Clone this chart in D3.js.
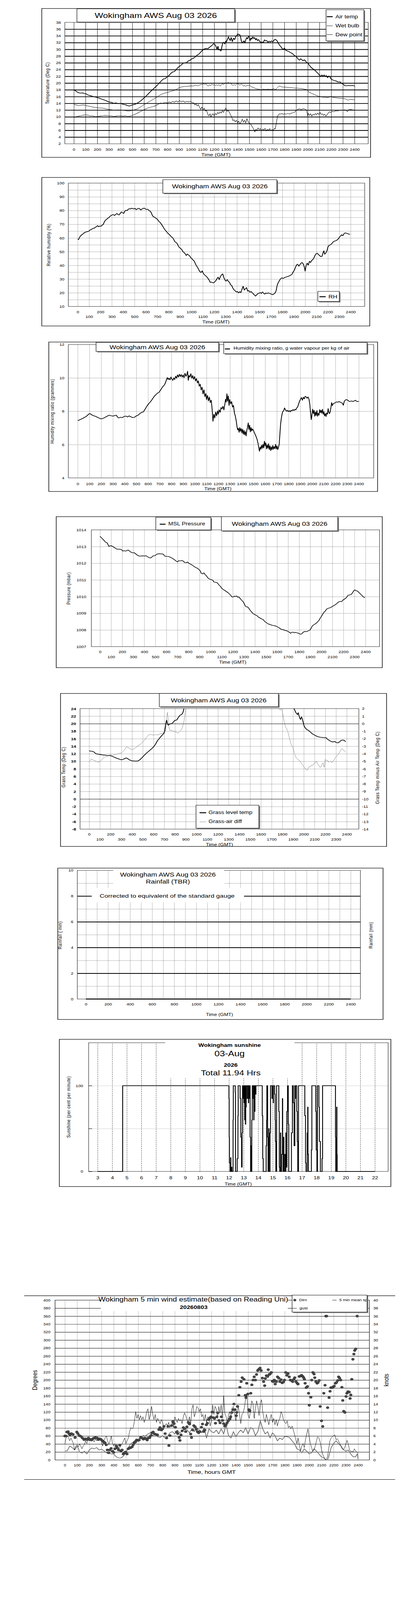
<!DOCTYPE html>
<html>
<head>
<meta charset="utf-8">
<script src="https://cdn.jsdelivr.net/npm/d3@7"></script>
<style>
html, body { margin: 0; padding: 0; background: #fff; width: 100%; height: 100%; overflow: hidden; }
svg { display: block; width: 100vw; height: 100vh; }
</style>
</head>
<body>
<script>
// ------------------------------------------------------------
// Wokingham AWS daily charts, Aug 03 2026
// x values are clock time as HHMM-style numbers (0..2400)
// ------------------------------------------------------------

var FONT = '"Liberation Sans", Arial, Helvetica, sans-serif';
var TITLE = "Wokingham AWS Aug 03 2026";

// --- chart 1: temperatures (deg C)
var airTemp = [[0,18.0],[15,17.7],[30,17.3],[45,17.1],[60,17.0],[75,17.1],[90,16.9],[105,16.8],[120,16.5],[135,16.3],[150,16.2],[165,16.0],[180,15.9],[200,15.7],[220,15.5],[240,15.2],[260,15.0],[280,14.7],[300,14.4],[320,14.3],[340,14.0],[360,14.1],[380,13.9],[400,14.0],[420,13.7],[440,13.6],[460,13.3],[475,13.2],[490,13.4],[510,13.6],[530,13.8],[550,14.2],[575,14.8],[600,15.6],[625,16.4],[650,17.3],[675,18.1],[700,18.9],[725,19.8],[750,20.7],[765,21.2],[780,21.3],[800,21.9],[815,22.3],[830,22.9],[845,23.3],[860,23.4],[875,24.0],[890,24.6],[905,25.0],[920,25.4],[935,25.9],[950,26.0],[965,26.1],[980,26.6],[995,26.8],[1010,27.2],[1025,27.4],[1040,27.8],[1055,28.3],[1070,28.6],[1085,29.2],[1100,29.7],[1115,30.1],[1130,30.3],[1145,30.2],[1160,30.6],[1175,31.0],[1185,31.3],[1195,31.7],[1205,31.5],[1215,30.9],[1225,30.0],[1232,30.9],[1240,29.8],[1250,29.9],[1258,29.5],[1265,30.6],[1272,31.8],[1280,32.1],[1290,31.6],[1298,32.4],[1305,32.2],[1315,33.1],[1322,33.7],[1330,33.0],[1338,32.6],[1345,33.5],[1355,32.3],[1365,33.3],[1375,32.9],[1385,33.8],[1395,34.2],[1402,34.6],[1410,34.3],[1418,34.4],[1425,33.8],[1432,32.5],[1440,31.9],[1448,32.2],[1455,32.5],[1462,31.9],[1470,32.8],[1478,33.5],[1486,33.1],[1494,33.9],[1500,33.6],[1508,32.6],[1515,33.4],[1522,33.0],[1530,33.7],[1538,33.2],[1546,33.5],[1554,32.8],[1562,33.2],[1570,32.6],[1580,32.9],[1590,32.3],[1600,32.0],[1610,32.2],[1620,32.0],[1630,32.8],[1640,32.5],[1650,32.6],[1660,32.1],[1670,32.4],[1680,32.2],[1690,32.5],[1700,32.2],[1710,32.6],[1720,33.0],[1730,32.8],[1740,32.4],[1750,31.7],[1760,31.2],[1770,30.8],[1780,30.3],[1790,29.9],[1800,30.4],[1810,29.8],[1825,29.5],[1840,29.3],[1855,29.0],[1870,28.7],[1885,28.2],[1900,27.9],[1910,27.5],[1920,27.0],[1930,26.8],[1940,27.2],[1950,26.9],[1960,26.6],[1970,26.9],[1980,26.6],[1990,26.1],[2000,26.0],[2015,25.2],[2030,24.6],[2045,24.2],[2060,23.8],[2075,23.3],[2090,22.8],[2100,22.3],[2110,22.0],[2120,22.4],[2130,22.1],[2140,22.4],[2150,22.0],[2160,22.2],[2170,21.6],[2180,22.1],[2190,21.8],[2200,21.2],[2215,20.9],[2230,20.7],[2245,20.6],[2260,20.3],[2275,20.4],[2290,19.9],[2305,19.6],[2320,19.2],[2335,19.2],[2350,19.3],[2365,19.2],[2380,19.3],[2395,19.2],[2400,19.1]];
var wetBulb = [[0,13.7],[20,13.5],[40,13.3],[60,13.4],[80,13.5],[100,13.4],[120,13.2],[140,13.1],[160,12.9],[180,12.8],[200,12.7],[220,12.6],[240,12.6],[260,12.5],[280,12.3],[300,12.2],[320,12.1],[340,11.95],[360,12.0],[380,12.05],[400,11.95],[420,11.9],[440,11.85],[460,11.7],[480,11.75],[500,11.9],[520,12.1],[540,12.3],[560,12.7],[580,13.1],[600,13.6],[625,14.1],[650,14.6],[675,15.1],[700,15.6],[725,16.2],[750,16.7],[775,17.0],[800,17.2],[825,17.5],[850,17.7],[875,18.1],[900,18.6],[925,18.9],[950,19.0],[975,19.0],[1000,19.2],[1020,19.1],[1040,19.4],[1060,19.2],[1080,19.5],[1100,19.6],[1110,19.8],[1120,19.5],[1130,19.8],[1140,19.3],[1150,19.1],[1160,19.5],[1170,19.2],[1180,19.7],[1190,19.4],[1200,19.6],[1210,19.2],[1220,19.5],[1230,19.3],[1240,19.6],[1250,19.1],[1260,19.4],[1270,19.8],[1280,19.5],[1290,19.9],[1300,20.1],[1310,19.8],[1320,20.3],[1330,19.9],[1340,20.1],[1350,19.5],[1360,19.3],[1370,19.6],[1380,19.3],[1390,19.6],[1400,19.9],[1410,19.6],[1420,19.4],[1430,19.7],[1440,19.5],[1450,19.1],[1460,19.3],[1470,19.0],[1480,19.4],[1490,19.2],[1500,19.5],[1510,19.1],[1520,18.9],[1540,18.6],[1560,18.3],[1580,18.2],[1600,18.0],[1620,18.2],[1640,18.1],[1660,18.2],[1680,18.1],[1700,18.2],[1710,18.4],[1720,18.1],[1730,18.2],[1740,18.6],[1750,19.0],[1760,19.1],[1775,18.9],[1790,18.8],[1810,18.8],[1830,18.7],[1850,18.7],[1870,18.6],[1890,18.5],[1910,18.5],[1930,18.4],[1950,18.4],[1970,18.2],[1990,18.1],[2000,17.8],[2010,17.3],[2030,17.0],[2050,16.7],[2070,16.4],[2090,16.1],[2110,16.0],[2130,15.8],[2150,15.8],[2170,15.7],[2190,15.9],[2200,16.1],[2210,15.8],[2230,15.7],[2250,15.6],[2270,15.5],[2290,15.5],[2310,15.4],[2330,15.2],[2345,14.9],[2360,15.2],[2380,15.1],[2400,15.1]];
var dewPoint = [[0,9.8],[20,10.0],[40,10.2],[60,10.3],[80,10.5],[100,10.6],[120,10.5],[140,10.3],[160,10.3],[180,10.1],[200,10.1],[220,10.2],[240,10.3],[260,10.4],[280,10.4],[300,10.3],[320,10.3],[340,10.1],[360,10.2],[380,10.3],[400,10.3],[420,10.2],[440,10.3],[460,10.1],[480,10.2],[500,10.4],[520,10.7],[540,11.0],[560,11.4],[580,11.7],[600,12.1],[625,12.5],[650,12.8],[675,13.0],[700,13.3],[720,13.7],[740,14.1],[760,14.0],[780,14.3],[800,14.1],[815,14.4],[830,14.2],[845,14.6],[860,14.3],[875,14.7],[890,14.4],[905,14.8],[920,14.4],[935,14.7],[950,14.3],[965,14.6],[980,14.4],[995,14.6],[1010,14.3],[1025,14.1],[1035,13.5],[1045,13.8],[1055,13.2],[1065,13.6],[1075,12.8],[1085,12.2],[1095,12.9],[1105,12.1],[1115,12.6],[1125,11.7],[1135,11.9],[1145,10.8],[1155,10.3],[1165,10.9],[1172,9.9],[1180,10.6],[1190,10.9],[1200,10.3],[1210,11.0],[1220,10.6],[1230,11.3],[1240,10.9],[1250,11.5],[1260,11.1],[1270,11.8],[1280,11.3],[1290,12.1],[1300,12.6],[1310,11.6],[1320,11.9],[1330,11.3],[1340,10.6],[1350,9.9],[1360,8.9],[1370,9.1],[1380,8.5],[1390,9.0],[1400,8.2],[1410,8.7],[1420,7.9],[1430,8.5],[1440,9.3],[1450,8.4],[1460,9.0],[1470,8.2],[1480,9.5],[1490,8.6],[1500,8.1],[1510,7.9],[1520,7.4],[1530,6.8],[1540,6.2],[1548,5.5],[1555,6.3],[1565,6.0],[1575,6.7],[1585,6.2],[1595,6.5],[1605,5.9],[1615,6.4],[1625,6.1],[1635,6.6],[1645,5.8],[1655,6.3],[1665,6.0],[1675,6.5],[1685,5.9],[1695,6.2],[1705,6.0],[1715,6.6],[1722,6.4],[1728,7.5],[1735,9.0],[1742,10.2],[1750,10.6],[1760,10.9],[1770,10.8],[1780,11.0],[1790,10.7],[1800,10.9],[1815,10.8],[1830,11.0],[1845,10.8],[1860,11.1],[1875,11.2],[1890,11.4],[1900,11.9],[1915,12.2],[1930,12.4],[1945,12.1],[1960,12.4],[1975,12.3],[1990,12.0],[1995,11.0],[2000,10.2],[2005,11.0],[2015,10.4],[2025,10.9],[2035,10.2],[2045,10.8],[2055,10.5],[2065,11.0],[2075,10.6],[2085,11.1],[2095,10.7],[2105,11.3],[2115,10.7],[2125,10.9],[2135,10.4],[2145,10.8],[2155,10.2],[2165,10.6],[2175,11.1],[2185,11.5],[2195,11.3],[2210,11.6],[2225,11.5],[2240,11.8],[2255,11.7],[2270,11.9],[2285,12.0],[2300,11.9],[2315,12.1],[2330,11.8],[2340,11.5],[2350,12.1],[2365,12.2],[2380,12.1],[2400,12.0]];
var tempLegend = ["Air temp", "Wet bulb", "Dew point"];

// --- chart 2: relative humidity (%)
var relHum = [[0,59.2],[8,58.8],[15,60.2],[25,61.5],[35,62.2],[45,62.8],[55,63.6],[65,64.1],[80,64.5],[95,64.8],[110,65.8],[125,66.4],[135,67.1],[145,67.0],[155,67.8],[165,68.2],[175,69.0],[185,68.2],[195,68.7],[205,68.5],[215,69.4],[225,69.8],[235,71.8],[245,73.0],[255,73.6],[265,74.4],[275,74.9],[285,75.8],[295,76.4],[305,76.9],[315,77.0],[325,76.4],[335,77.2],[345,77.8],[355,77.1],[365,76.8],[375,78.0],[385,79.0],[395,78.4],[405,77.9],[415,79.6],[425,80.2],[435,79.9],[445,81.0],[455,81.3],[465,81.2],[475,81.7],[485,81.3],[495,81.2],[505,81.6],[515,80.6],[525,81.2],[535,81.6],[545,81.3],[555,80.4],[565,81.1],[575,81.5],[585,81.8],[595,81.2],[605,80.8],[615,81.0],[625,80.2],[635,79.6],[645,78.8],[655,76.8],[665,75.5],[675,75.2],[685,74.6],[695,74.0],[705,73.2],[715,72.0],[725,71.3],[735,70.2],[745,68.9],[755,67.6],[765,66.2],[775,65.2],[785,64.3],[795,63.2],[805,62.6],[815,61.7],[825,60.7],[835,60.2],[845,58.9],[855,57.2],[865,56.7],[875,55.9],[885,54.1],[895,53.0],[905,52.4],[915,51.5],[925,50.1],[935,49.4],[945,48.5],[955,47.2],[965,48.3],[975,47.5],[985,46.9],[995,45.6],[1005,44.8],[1015,43.9],[1025,43.1],[1035,41.2],[1045,39.6],[1055,38.4],[1065,36.8],[1075,35.4],[1085,34.8],[1095,36.0],[1105,34.2],[1115,33.1],[1125,32.4],[1135,31.6],[1145,30.6],[1155,29.4],[1165,27.6],[1175,27.8],[1185,27.5],[1195,27.2],[1205,27.9],[1215,28.8],[1225,30.2],[1235,31.4],[1245,29.6],[1255,31.8],[1265,33.0],[1275,33.8],[1285,31.2],[1295,29.3],[1305,28.5],[1315,29.6],[1325,28.3],[1335,27.6],[1345,25.8],[1355,25.2],[1365,23.4],[1375,22.1],[1385,21.4],[1395,20.6],[1405,20.9],[1415,19.9],[1425,20.8],[1435,20.1],[1445,22.6],[1455,24.8],[1465,22.0],[1475,22.9],[1485,23.8],[1495,21.2],[1505,21.6],[1515,20.4],[1525,20.9],[1535,20.0],[1545,19.2],[1555,18.3],[1565,17.6],[1575,18.6],[1585,19.4],[1595,19.6],[1605,20.2],[1615,19.5],[1625,20.6],[1635,19.7],[1645,19.0],[1655,19.8],[1665,19.4],[1675,19.9],[1685,19.6],[1695,19.3],[1705,18.9],[1715,18.6],[1725,19.1],[1735,19.8],[1745,21.5],[1755,25.6],[1765,27.6],[1775,29.0],[1785,30.2],[1795,30.9],[1805,30.5],[1815,30.8],[1825,31.3],[1835,31.5],[1845,31.8],[1855,32.1],[1865,32.4],[1875,32.9],[1885,33.6],[1895,35.2],[1905,36.4],[1915,38.5],[1925,40.4],[1935,40.8],[1945,39.4],[1955,40.6],[1965,41.7],[1975,42.0],[1985,40.8],[1995,38.2],[2000,35.8],[2008,39.5],[2018,41.6],[2028,40.2],[2038,42.9],[2048,42.1],[2058,43.6],[2068,44.2],[2078,45.6],[2088,47.4],[2098,48.6],[2108,48.8],[2118,47.8],[2128,47.1],[2138,46.4],[2148,46.5],[2158,49.2],[2165,50.6],[2172,48.1],[2182,49.0],[2192,50.6],[2202,53.7],[2212,54.6],[2222,55.1],[2232,55.5],[2242,56.7],[2252,57.5],[2262,57.8],[2272,58.0],[2282,58.6],[2292,59.3],[2302,60.6],[2312,61.5],[2322,62.3],[2332,61.6],[2342,63.1],[2352,63.7],[2362,63.5],[2372,63.2],[2382,62.9],[2395,62.6]];

// --- chart 3: humidity mixing ratio (g/kg)
var mixRatio = [[0,7.44],[15,7.48],[30,7.53],[45,7.58],[60,7.64],[75,7.7],[90,7.8],[100,7.86],[110,7.84],[120,7.78],[135,7.73],[150,7.7],[165,7.65],[180,7.6],[195,7.55],[210,7.56],[225,7.6],[240,7.66],[255,7.72],[270,7.76],[285,7.73],[300,7.71],[315,7.74],[330,7.76],[340,7.65],[350,7.6],[365,7.64],[380,7.62],[395,7.68],[410,7.71],[425,7.66],[440,7.72],[455,7.66],[470,7.62],[485,7.64],[500,7.72],[515,7.76],[530,7.86],[545,7.93],[560,7.96],[575,8.12],[590,8.3],[605,8.44],[620,8.56],[635,8.7],[650,8.86],[665,8.98],[680,9.08],[695,9.14],[710,9.3],[725,9.46],[740,9.58],[750,9.72],[758,9.9],[765,10.02],[772,9.9],[780,9.98],[788,9.88],[796,10.05],[804,9.92],[812,9.85],[820,10.0],[828,9.9],[836,10.1],[844,9.98],[852,10.18],[860,10.05],[868,10.22],[876,10.08],[884,10.2],[892,10.05],[900,10.17],[908,10.02],[916,10.28],[924,10.1],[932,10.2],[938,10.4],[944,9.85],[950,10.15],[958,10.05],[966,10.25],[974,9.98],[982,10.14],[990,9.92],[998,10.08],[1006,9.82],[1014,9.96],[1022,9.7],[1030,9.82],[1038,9.5],[1046,9.62],[1054,9.28],[1062,9.44],[1070,9.04],[1078,9.28],[1086,8.88],[1094,9.06],[1100,8.7],[1108,8.95],[1116,8.62],[1124,8.85],[1132,8.52],[1140,8.66],[1148,8.1],[1155,7.4],[1162,7.82],[1170,7.6],[1178,7.95],[1186,7.72],[1194,8.02],[1200,7.82],[1208,8.08],[1216,7.94],[1224,8.22],[1232,8.14],[1240,8.3],[1248,8.08],[1256,8.4],[1262,8.72],[1268,8.55],[1274,9.05],[1280,8.6],[1286,8.92],[1292,8.35],[1298,8.7],[1306,8.45],[1314,8.58],[1322,8.25],[1330,8.35],[1338,7.9],[1346,7.7],[1354,7.4],[1360,7.08],[1366,6.88],[1372,6.98],[1378,6.74],[1384,7.02],[1390,6.8],[1396,6.96],[1402,6.7],[1408,6.92],[1414,6.62],[1420,6.85],[1426,6.58],[1432,6.78],[1438,6.52],[1444,6.86],[1450,7.04],[1456,7.3],[1462,6.9],[1468,7.16],[1474,6.76],[1480,7.02],[1486,6.82],[1492,6.94],[1500,6.86],[1508,6.72],[1516,6.6],[1524,6.46],[1532,6.3],[1540,6.06],[1546,5.82],[1552,5.6],[1558,5.86],[1564,5.72],[1570,5.96],[1576,5.78],[1582,6.02],[1588,5.8],[1594,6.2],[1600,5.92],[1606,6.1],[1612,5.74],[1618,5.98],[1624,5.78],[1630,6.05],[1636,5.7],[1642,5.92],[1648,5.64],[1654,5.86],[1660,5.7],[1666,5.95],[1672,5.72],[1678,5.88],[1684,5.76],[1690,6.02],[1696,5.74],[1702,5.92],[1708,5.7],[1714,5.84],[1720,6.0],[1726,6.6],[1732,7.2],[1738,7.56],[1744,7.8],[1750,7.98],[1758,8.02],[1766,8.2],[1774,8.08],[1782,8.0],[1790,8.06],[1798,7.98],[1806,8.04],[1814,7.96],[1822,8.06],[1830,8.02],[1838,8.1],[1846,8.04],[1854,8.12],[1862,8.08],[1870,8.2],[1878,8.26],[1886,8.44],[1894,8.6],[1902,8.72],[1910,8.82],[1918,8.66],[1926,8.84],[1934,8.74],[1942,8.9],[1950,8.86],[1958,8.78],[1966,8.86],[1974,8.74],[1982,8.4],[1988,7.9],[1994,7.5],[2000,7.8],[2006,8.12],[2012,7.86],[2018,8.06],[2024,7.7],[2030,7.96],[2036,7.74],[2042,8.04],[2048,7.7],[2054,7.88],[2060,7.76],[2066,8.1],[2072,7.92],[2078,8.06],[2084,7.88],[2090,8.12],[2096,7.82],[2102,7.98],[2108,7.72],[2114,7.86],[2120,7.68],[2126,7.9],[2132,7.82],[2138,8.16],[2144,7.92],[2150,7.86],[2156,7.98],[2162,8.22],[2168,8.52],[2174,8.34],[2180,8.44],[2190,8.48],[2200,8.52],[2210,8.56],[2220,8.54],[2230,8.58],[2240,8.55],[2250,8.52],[2260,8.48],[2268,8.36],[2276,8.6],[2284,8.66],[2292,8.7],[2300,8.68],[2310,8.64],[2320,8.58],[2330,8.6],[2340,8.62],[2350,8.58],[2360,8.62],[2370,8.66],[2380,8.6],[2390,8.58],[2400,8.6]];
var mixLegend = "Humidity mixing ratio, g water vapour per kg of air";

// --- chart 4: MSL pressure (mbar)
var mslPressure = [[0,1013.61],[10,1013.55],[20,1013.48],[35,1013.38],[50,1013.26],[65,1013.22],[80,1013.01],[90,1013.04],[100,1013.06],[110,1013.02],[125,1012.96],[140,1012.9],[150,1012.85],[165,1012.84],[180,1012.84],[195,1012.82],[205,1012.73],[220,1012.75],[235,1012.73],[245,1012.77],[255,1012.79],[265,1012.74],[280,1012.66],[295,1012.62],[310,1012.63],[325,1012.55],[340,1012.47],[355,1012.43],[370,1012.43],[385,1012.44],[400,1012.43],[415,1012.45],[430,1012.39],[445,1012.33],[460,1012.32],[470,1012.38],[480,1012.44],[495,1012.45],[505,1012.5],[520,1012.56],[535,1012.57],[550,1012.56],[565,1012.56],[575,1012.52],[585,1012.43],[600,1012.41],[615,1012.41],[630,1012.38],[645,1012.33],[660,1012.27],[675,1012.2],[690,1012.12],[700,1012.08],[710,1012.15],[725,1012.14],[740,1012.16],[755,1012.12],[765,1012.04],[780,1012.03],[790,1012.07],[805,1011.99],[820,1011.94],[835,1011.88],[850,1011.81],[865,1011.74],[880,1011.7],[895,1011.62],[905,1011.55],[915,1011.4],[925,1011.36],[940,1011.42],[950,1011.32],[960,1011.26],[975,1011.12],[990,1011.05],[1005,1011.02],[1020,1010.98],[1030,1010.87],[1045,1010.86],[1060,1010.83],[1075,1010.7],[1090,1010.6],[1100,1010.5],[1115,1010.42],[1130,1010.36],[1145,1010.29],[1160,1010.22],[1175,1010.12],[1185,1010.05],[1195,1009.97],[1205,1009.98],[1215,1010.03],[1225,1010.0],[1235,1010.04],[1245,1009.96],[1255,1009.98],[1265,1009.9],[1275,1009.82],[1285,1009.75],[1295,1009.68],[1305,1009.56],[1315,1009.42],[1325,1009.38],[1335,1009.38],[1345,1009.3],[1355,1009.2],[1365,1009.12],[1375,1009.04],[1385,1008.98],[1395,1008.93],[1405,1008.9],[1420,1008.85],[1430,1008.78],[1445,1008.72],[1460,1008.66],[1475,1008.62],[1490,1008.5],[1505,1008.43],[1520,1008.36],[1535,1008.33],[1550,1008.29],[1565,1008.27],[1580,1008.25],[1595,1008.22],[1610,1008.16],[1625,1008.1],[1640,1008.03],[1655,1008.02],[1670,1007.98],[1685,1007.95],[1700,1007.91],[1712,1007.86],[1722,1007.8],[1732,1007.85],[1745,1007.87],[1755,1007.83],[1765,1007.85],[1780,1007.83],[1795,1007.8],[1805,1007.76],[1815,1007.74],[1825,1007.78],[1840,1007.88],[1855,1007.91],[1870,1007.9],[1885,1007.95],[1900,1008.01],[1910,1008.12],[1920,1008.25],[1935,1008.32],[1950,1008.38],[1965,1008.47],[1980,1008.58],[1990,1008.7],[2000,1008.8],[2010,1008.9],[2020,1009.02],[2035,1009.12],[2050,1009.26],[2065,1009.3],[2080,1009.33],[2095,1009.38],[2110,1009.45],[2125,1009.5],[2140,1009.58],[2155,1009.67],[2170,1009.71],[2185,1009.7],[2195,1009.78],[2210,1009.85],[2225,1009.92],[2240,1010.06],[2255,1010.1],[2270,1010.12],[2285,1010.25],[2295,1010.36],[2305,1010.4],[2315,1010.35],[2325,1010.34],[2340,1010.25],[2355,1010.15],[2370,1010.05],[2385,1009.96],[2395,1009.93]];

// --- chart 5: grass temperature (left axis) and grass minus air (right axis)
var grassTemp = [[0,12.8],[15,12.7],[30,12.65],[45,12.5],[55,12.2],[65,12.0],[85,11.9],[105,11.8],[125,11.7],[147,11.65],[170,11.55],[198,11.5],[220,11.3],[240,11.0],[260,10.8],[280,10.6],[300,10.4],[315,10.5],[330,10.7],[347,10.9],[360,10.7],[381,10.3],[400,10.15],[432,10.05],[455,10.1],[473,10.4],[495,11.0],[514,11.6],[540,12.3],[565,12.9],[585,13.4],[606,14.0],[620,14.6],[636,15.4],[652,16.0],[667,16.5],[682,17.0],[697,17.4],[705,18.2],[712,19.3],[718,20.5],[723,20.9],[728,20.2],[733,19.8],[738,19.6],[746,19.8],[754,19.9],[766,20.0],[779,20.2],[790,20.6],[800,20.9],[810,20.9],[820,21.1],[835,21.8],[850,22.3],[865,22.5],[875,23.0],[882,23.8],[890,24.8],[900,26.0],[1000,30],[1200,34],[1500,34],[1800,30],[1900,24.8],[1911,23.9],[1925,23.0],[1941,22.4],[1948,22.9],[1955,22.2],[1962,21.5],[1970,21.1],[1978,21.8],[1985,21.4],[1995,20.3],[2003,19.4],[2015,18.8],[2030,18.4],[2044,18.2],[2060,17.8],[2080,17.3],[2105,16.9],[2125,16.6],[2150,16.4],[2186,16.3],[2206,16.3],[2220,15.9],[2235,15.6],[2247,15.4],[2260,15.2],[2275,15.15],[2288,15.3],[2300,15.0],[2319,14.9],[2335,15.2],[2350,15.6],[2365,15.65],[2380,15.5],[2390,15.2]];
var grassAirDiff = [[0,-5.15],[10,-4.9],[20,-4.7],[35,-4.8],[50,-4.9],[65,-5.0],[80,-5.1],[100,-5.05],[115,-4.85],[130,-4.6],[150,-4.35],[165,-4.4],[180,-4.25],[200,-4.1],[220,-4.2],[240,-4.1],[260,-4.05],[280,-3.95],[300,-3.9],[315,-3.7],[330,-3.5],[350,-3.05],[365,-3.2],[380,-3.3],[400,-3.45],[420,-3.35],[435,-3.15],[450,-3.0],[465,-2.85],[480,-2.75],[500,-2.4],[515,-2.2],[530,-1.9],[550,-1.55],[565,-1.45],[580,-1.45],[600,-1.52],[620,-1.45],[640,-1.5],[660,-1.35],[680,-1.3],[700,-1.15],[710,-1.0],[718,0.0],[725,1.0],[730,1.5],[735,0.9],[742,-0.3],[750,-0.85],[765,-0.9],[780,-1.0],[800,-1.05],[815,-1.15],[830,-1.25],[845,-1.05],[860,-0.8],[872,-0.4],[885,0.4],[895,1.4],[905,2.3],[1000,4],[1400,5],[1700,3],[1770,2.0],[1780,1.79],[1790,1.93],[1800,1.65],[1810,0.82],[1820,0.12],[1830,-0.44],[1840,-0.64],[1850,-1.0],[1860,-1.55],[1870,-2.1],[1880,-2.65],[1890,-2.95],[1900,-3.2],[1915,-4.05],[1930,-4.55],[1945,-4.75],[1960,-4.9],[1980,-5.3],[2000,-5.7],[2010,-5.9],[2020,-6.0],[2030,-6.2],[2040,-5.95],[2050,-5.7],[2060,-5.75],[2070,-5.5],[2080,-5.6],[2090,-5.35],[2100,-5.3],[2110,-5.1],[2120,-5.05],[2130,-5.4],[2140,-5.5],[2150,-5.8],[2160,-5.75],[2170,-5.4],[2180,-5.2],[2190,-5.8],[2200,-4.75],[2210,-4.9],[2220,-4.85],[2230,-5.1],[2240,-5.05],[2250,-4.95],[2260,-5.2],[2270,-5.0],[2280,-4.9],[2290,-4.6],[2300,-4.4],[2315,-4.2],[2330,-3.9],[2345,-3.5],[2355,-3.3],[2365,-3.5],[2375,-3.55],[2390,-3.8]];
var grassLegend = ["Grass level temp", "Grass-air diff"];

// --- chart 6: rainfall (mm), none recorded
var rainfall = [[0,0],[600,0],[1200,0],[1800,0],[2400,0]];

// --- chart 7: sunshine, [minute of day, per cent of minute], held until next entry
var sunSteps = [[180,0],[283,100],[720,85],[721,40],[722,10],[725,0],[727,16],[728,0],[731,5],[732,0],[737,60],[738,100],[746,92],[747,0],[754,15],[757,65],[758,100],[766,85],[769,40],[772,5],[774,45],[776,100],[778,85],[779,100],[782,80],[783,100],[785,60],[786,100],[788,55],[789,95],[790,75],[791,100],[795,85],[796,100],[800,80],[801,100],[803,85],[804,100],[807,40],[809,0],[811,30],[812,0],[814,60],[816,100],[820,85],[821,100],[822,60],[823,100],[826,70],[827,100],[830,90],[831,100],[857,65],[859,15],[861,0],[873,30],[875,60],[876,100],[879,40],[881,0],[884,50],[885,0],[889,45],[891,100],[897,85],[898,100],[902,80],[903,100],[908,90],[910,60],[911,35],[913,0],[916,100],[925,70],[927,5],[929,0],[932,45],[933,0],[937,20],[940,85],[941,30],[943,0],[945,40],[946,0],[950,20],[951,0],[954,45],[955,5],[958,70],[961,100],[964,55],[966,0],[977,45],[981,100],[985,80],[988,30],[991,100],[993,85],[994,100],[999,70],[1001,35],[1003,0],[1006,100],[1032,65],[1035,10],[1037,0],[1042,45],[1044,75],[1045,20],[1047,0],[1059,25],[1061,100],[1077,70],[1079,25],[1082,0],[1084,100],[1090,75],[1092,35],[1096,0],[1103,15],[1105,100],[1158,40],[1159,0],[1163,75],[1164,20],[1165,0],[1320,0]];
var sunHours = [3,4,5,6,7,8,9,10,11,12,13,14,15,16,17,18,19,20,21,22];
var sunTitle = ["Wokingham sunshine", "03-Aug", "2026", "Total 11.94 Hrs"];

// --- chart 8: wind, direction (degrees) and speeds (knots)
var windDirn = [[0,60],[10,60],[17,70],[27,71],[34,66],[42,63],[54,66],[67,64],[84,56],[98,70],[107,66],[119,61],[132,59],[144,55],[157,51],[168,53],[180,51],[193,55],[205,51],[218,50],[228,53],[239,55],[251,56],[264,55],[274,51],[285,53],[297,51],[308,48],[318,45],[329,43],[339,38],[348,25],[358,18],[367,25],[379,29],[390,22],[400,19],[410,28],[421,35],[431,30],[440,25],[450,37],[459,23],[469,25],[478,15],[488,18],[498,20],[509,15],[519,28],[530,30],[540,31],[551,33],[559,38],[568,43],[578,45],[588,50],[599,49],[608,50],[620,56],[632,55],[643,52],[655,55],[664,53],[674,50],[683,55],[695,56],[704,61],[714,68],[723,70],[735,65],[746,64],[758,63],[770,76],[779,81],[790,75],[800,78],[811,84],[821,66],[833,55],[844,84],[852,36],[861,61],[873,86],[884,96],[894,91],[905,82],[915,70],[924,66],[936,56],[942,49],[951,63],[961,73],[970,81],[980,78],[989,71],[999,83],[1011,94],[1020,90],[1030,65],[1037,56],[1047,75],[1056,86],[1066,83],[1076,77],[1085,71],[1095,68],[1106,71],[1118,82],[1127,90],[1137,71],[1146,75],[1158,88],[1167,92],[1177,101],[1187,105],[1196,108],[1206,120],[1216,106],[1225,104],[1233,92],[1244,108],[1252,118],[1261,99],[1271,93],[1281,108],[1290,99],[1300,91],[1309,85],[1319,88],[1328,93],[1338,98],[1350,103],[1357,108],[1367,119],[1376,126],[1384,140],[1393,126],[1403,111],[1407,119],[1414,134],[1424,162],[1433,182],[1443,196],[1452,206],[1466,202],[1477,162],[1483,156],[1489,192],[1498,165],[1506,126],[1514,123],[1522,167],[1531,188],[1541,200],[1550,208],[1560,200],[1569,214],[1579,224],[1588,227],[1598,230],[1607,224],[1617,205],[1627,196],[1636,186],[1641,204],[1650,211],[1660,209],[1665,226],[1673,214],[1680,215],[1690,219],[1699,197],[1707,196],[1715,200],[1722,190],[1732,196],[1741,208],[1751,205],[1760,196],[1770,201],[1779,193],[1789,195],[1798,200],[1808,219],[1817,212],[1827,216],[1837,208],[1846,200],[1856,199],[1865,196],[1875,202],[1882,206],[1892,196],[1902,192],[1909,190],[1919,209],[1929,210],[1938,212],[1948,209],[1955,206],[1961,202],[1967,192],[1976,181],[1986,184],[1995,167],[2001,137],[2014,157],[2021,200],[2031,219],[2040,215],[2046,206],[2055,196],[2065,192],[2073,194],[2082,199],[2090,134],[2101,98],[2111,84],[2120,167],[2130,187],[2137,360],[2143,360],[2151,131],[2163,156],[2171,172],[2178,181],[2188,181],[2197,183],[2205,185],[2215,192],[2224,194],[2234,199],[2241,208],[2249,205],[2258,200],[2268,182],[2275,149],[2283,122],[2292,119],[2302,159],[2309,167],[2318,171],[2328,170],[2335,154],[2341,163],[2349,202],[2358,252],[2366,265],[2373,274],[2381,278],[2393,360]];
var windGust = [[0,4.0],[10,5.5],[20,6.1],[30,5.6],[40,4.8],[50,5.5],[60,4.8],[70,4.1],[80,2.5],[90,3.5],[100,3.8],[110,3.3],[120,4.0],[130,3.5],[140,2.8],[150,3.5],[160,3.8],[170,4.8],[180,4.1],[190,5.0],[200,4.8],[210,5.5],[220,4.8],[230,5.1],[240,4.5],[250,5.3],[260,4.8],[270,5.8],[280,5.1],[290,5.5],[300,4.5],[310,3.5],[320,4.8],[330,5.5],[340,6.0],[350,4.8],[360,3.8],[370,4.8],[380,6.0],[390,4.1],[400,3.5],[410,4.1],[420,2.8],[430,3.8],[440,2.5],[450,3.1],[460,3.8],[470,4.1],[480,4.8],[490,5.5],[500,4.1],[510,4.8],[520,5.5],[530,7.1],[540,8.1],[550,7.8],[560,8.1],[570,9.8],[580,12.1],[590,10.4],[600,11.4],[610,10.1],[620,11.1],[630,10.1],[640,10.8],[650,9.4],[660,10.4],[670,12.1],[680,12.8],[690,10.1],[700,11.4],[710,13.4],[720,11.4],[730,10.1],[740,11.4],[750,9.4],[760,10.4],[770,9.8],[780,9.1],[790,10.1],[800,9.4],[810,8.1],[820,8.5],[830,9.1],[840,8.6],[850,9.4],[860,8.1],[870,8.8],[880,9.4],[890,8.1],[900,10.8],[910,10.1],[920,9.4],[930,10.4],[940,9.8],[950,10.1],[960,9.1],[970,10.8],[980,11.8],[990,11.1],[1000,10.1],[1010,9.4],[1020,10.8],[1030,8.8],[1040,12.8],[1050,13.8],[1060,10.8],[1070,11.8],[1080,13.4],[1090,13.1],[1100,12.1],[1110,12.8],[1120,10.8],[1130,11.4],[1140,9.8],[1150,11.4],[1160,9.4],[1170,10.8],[1180,10.4],[1190,8.5],[1200,9.8],[1210,13.8],[1220,11.4],[1230,13.4],[1240,12.8],[1250,10.4],[1260,13.4],[1270,11.8],[1280,13.8],[1290,10.4],[1300,16.1],[1310,11.8],[1320,10.8],[1330,9.4],[1340,11.4],[1350,12.1],[1360,10.1],[1370,13.1],[1380,13.4],[1390,11.4],[1400,9.8],[1410,12.1],[1420,13.4],[1430,11.4],[1440,9.1],[1450,11.4],[1460,11.8],[1470,13.1],[1480,15.4],[1490,16.7],[1500,11.4],[1510,10.4],[1520,12.4],[1530,14.8],[1540,14.1],[1550,10.4],[1560,12.8],[1570,14.8],[1580,13.4],[1590,11.1],[1600,14.1],[1610,15.1],[1620,12.1],[1630,10.4],[1640,9.4],[1650,11.4],[1660,10.1],[1670,8.8],[1680,10.4],[1690,11.4],[1700,9.4],[1710,10.4],[1720,8.8],[1730,10.1],[1740,8.5],[1750,9.8],[1760,10.4],[1770,12.1],[1780,11.4],[1790,10.1],[1800,9.4],[1810,9.1],[1820,9.8],[1830,8.1],[1840,8.5],[1850,7.8],[1860,8.5],[1870,7.5],[1880,6.5],[1890,5.1],[1900,4.1],[1910,5.5],[1920,3.5],[1930,2.3],[1940,3.5],[1950,4.1],[1960,3.1],[1970,5.1],[1980,6.5],[1990,7.8],[2000,5.8],[2010,4.1],[2020,3.1],[2030,2.2],[2040,2.5],[2050,3.5],[2060,4.8],[2070,5.8],[2080,5.5],[2090,4.5],[2100,2.8],[2110,1.5],[2120,0.8],[2130,0.2],[2140,0],[2150,0.8],[2160,2.8],[2170,4.8],[2180,5.5],[2190,5.8],[2200,6.1],[2210,6.3],[2220,5.1],[2230,5.3],[2240,4.8],[2250,4.1],[2260,3.5],[2270,2.8],[2280,2.6],[2290,3.0],[2300,4.0],[2310,4.9],[2320,4.0],[2330,2.6],[2340,2.1],[2350,2.2],[2360,2.0],[2370,2.8],[2380,2.2],[2390,2.0],[2400,1.8]];
var windMean = [[0,2.3],[20,2.3],[40,3.5],[60,3.1],[80,2.5],[100,3.5],[110,3.0],[120,2.0],[140,1.7],[160,2.2],[180,1.5],[200,2.5],[220,3.0],[240,2.8],[260,3.1],[280,2.5],[300,2.7],[320,2.3],[340,1.8],[360,1.8],[380,1.5],[400,1.5],[420,0.8],[440,0.5],[460,0.5],[480,1.0],[500,1.8],[520,3.1],[540,4.1],[560,4.5],[580,5.1],[600,5.1],[620,5.5],[640,6.1],[660,6.0],[680,6.5],[700,6.8],[720,6.1],[740,6.6],[760,5.8],[780,5.6],[800,6.1],[820,5.5],[840,5.8],[860,6.8],[880,7.1],[900,6.5],[920,7.5],[940,6.8],[960,7.1],[980,8.1],[1000,7.5],[1020,6.8],[1040,7.8],[1060,7.1],[1080,8.1],[1100,7.5],[1120,6.8],[1140,8.1],[1160,5.5],[1180,7.8],[1200,7.1],[1220,6.8],[1240,7.5],[1260,6.5],[1280,7.8],[1300,6.5],[1320,8.8],[1340,6.1],[1360,5.5],[1380,7.1],[1400,5.8],[1420,6.8],[1440,7.5],[1460,6.8],[1480,8.1],[1500,6.5],[1520,8.1],[1540,7.8],[1560,6.1],[1580,7.1],[1600,9.8],[1620,7.8],[1640,6.5],[1660,7.1],[1680,5.5],[1700,6.8],[1720,6.1],[1740,4.8],[1760,5.5],[1780,5.1],[1800,5.9],[1820,5.8],[1840,5.6],[1860,4.8],[1880,4.1],[1900,2.8],[1920,2.5],[1940,1.8],[1960,2.8],[1980,2.2],[2000,1.5],[2020,1.8],[2040,2.8],[2060,2.2],[2080,1.5],[2100,0.8],[2120,0.5],[2140,0],[2150,0],[2160,0.8],[2180,3.1],[2200,4.1],[2220,4.8],[2240,4.1],[2260,3.5],[2280,2.6],[2300,2.2],[2320,2.5],[2340,1.5],[2360,0.8],[2380,0.8],[2395,1.6],[2400,0.2]];
var windLegend = ["Dirn", "5 min mean sp", "gust"];

// tick values
function range(a, b, s) { var r = []; for (var v = a; v <= b + 1e-9; v += s) r.push(Math.round(v * 100) / 100); return r; }
var hours100 = range(0, 2400, 100);
var hoursEven = range(0, 2400, 200);
var hoursOdd = range(100, 2300, 200);

// ------------------------------------------------------------
// the drawing is laid out on a 1050 x 5085 canvas and fitted to the window
var svg = d3.select("body").append("svg")
    .attr("viewBox", "0 0 1050 5085")
    .attr("preserveAspectRatio", "none")
    .style("font-family", FONT);
svg.append("rect").attr("width", 1050).attr("height", 5085).attr("fill", "#fff");
var defs = svg.append("defs");

function clipRect(id, x0, y0, x1, y1) {
    defs.append("clipPath").attr("id", id).append("rect")
        .attr("x", x0).attr("y", y0).attr("width", x1 - x0).attr("height", y1 - y0);
    return "url(#" + id + ")";
}

function frame(x0, y0, x1, y1, w) {
    svg.append("rect")
        .attr("x", x0).attr("y", y0).attr("width", x1 - x0).attr("height", y1 - y0)
        .attr("fill", "none").attr("stroke", "#000").attr("stroke-width", w || 1.3);
}

function whiteBox(x0, y0, x1, y1) {
    svg.append("rect")
        .attr("x", x0).attr("y", y0).attr("width", x1 - x0).attr("height", y1 - y0)
        .attr("fill", "#fff");
}

function shadowBox(x0, y0, x1, y1) {
    svg.append("rect")
        .attr("x", x0 + 3).attr("y", y0 + 3).attr("width", x1 - x0).attr("height", y1 - y0)
        .attr("fill", "#808080");
    svg.append("rect")
        .attr("x", x0).attr("y", y0).attr("width", x1 - x0).attr("height", y1 - y0)
        .attr("fill", "#fff").attr("stroke", "#000").attr("stroke-width", 1.2);
}

function label(x, y, s, size, o) {
    o = o || {};
    var t = svg.append("text")
        .attr("x", x).attr("y", y)
        .attr("font-size", size)
        .attr("text-anchor", o.anchor || "middle")
        .attr("dominant-baseline", "central")
        .attr("fill", "#000")
        .text(s);
    if (o.bold) t.attr("font-weight", "bold");
    if (o.rotate) t.attr("transform", "rotate(" + o.rotate + "," + x + "," + y + ")");
    if (o.spacing) t.attr("letter-spacing", o.spacing);
    if (o.clip) t.attr("clip-path", o.clip);
    return t;
}

function gridH(y, vals, x0, x1, w, dash, color) {
    var g = svg.append("g")
        .attr("transform", "translate(" + x0 + ",0)")
        .call(d3.axisLeft(y).tickValues(vals).tickSize(-(x1 - x0)).tickFormat(""));
    g.select(".domain").remove();
    g.selectAll(".tick line")
        .attr("stroke", color || "#000")
        .attr("stroke-width", w)
        .attr("stroke-dasharray", dash || null);
}

function gridV(x, vals, y0, y1, w, dash) {
    var g = svg.append("g")
        .attr("transform", "translate(0," + y1 + ")")
        .call(d3.axisBottom(x).tickValues(vals).tickSize(-(y1 - y0)).tickFormat(""));
    g.select(".domain").remove();
    g.selectAll(".tick line")
        .attr("stroke", "#000")
        .attr("stroke-width", w)
        .attr("stroke-dasharray", dash || null);
}

function styleTicks(g, size, bold) {
    g.select(".domain").remove();
    g.selectAll("text")
        .attr("font-family", FONT)
        .attr("font-size", size)
        .attr("font-weight", bold ? "bold" : null)
        .attr("fill", "#000");
}

function ticksLeft(y, vals, xr, size, bold) {
    var g = svg.append("g")
        .attr("transform", "translate(" + xr + ",0)")
        .call(d3.axisLeft(y).tickValues(vals).tickSize(0).tickPadding(0).tickFormat(function(d) { return String(d); }));
    styleTicks(g, size, bold);
}

function ticksRight(y, vals, xl, size) {
    var g = svg.append("g")
        .attr("transform", "translate(" + xl + ",0)")
        .call(d3.axisRight(y).tickValues(vals).tickSize(0).tickPadding(0).tickFormat(function(d) { return String(d); }));
    styleTicks(g, size);
}

function ticksBottom(x, vals, yc, size) {
    var g = svg.append("g")
        .attr("transform", "translate(0," + (yc - 0.36 * size) + ")")
        .call(d3.axisBottom(x).tickValues(vals).tickSize(0).tickPadding(0).tickFormat(function(d) { return String(d); }));
    styleTicks(g, size);
}

function series(x, y, data, color, w, clip, curve) {
    var line = d3.line().x(function(d) { return x(d[0]); }).y(function(d) { return y(d[1]); });
    if (curve) line.curve(curve);
    svg.append("path")
        .datum(data)
        .attr("fill", "none")
        .attr("stroke", color)
        .attr("stroke-width", w)
        .attr("stroke-linejoin", "round")
        .attr("clip-path", clip || null)
        .attr("d", line);
}

function legendLine(x0, x1, y, color, w) {
    svg.append("line").attr("x1", x0).attr("x2", x1).attr("y1", y).attr("y2", y)
        .attr("stroke", color).attr("stroke-width", w);
}

var DOT = "1,2";

// ============================================================
// 1. Temperature
// ============================================================
(function() {
    var x = d3.scaleLinear().domain([-77, 2517]).range([166, 943]);
    var y = d3.scaleLinear().domain([2, 38]).range([457, 71]);

    frame(107, 27, 949, 500, 1.5);
    gridV(x, hours100, 71, 457, 1);
    gridH(y, range(4, 36, 2), 166, 943, 2.4);
    frame(166, 71, 943, 457, 1);

    series(x, y, dewPoint, "#000", 1.1);
    series(x, y, wetBulb, "#000", 1);
    series(x, y, airTemp, "#000", 2);

    shadowBox(197, 28, 601, 70);
    label(399, 49, TITLE, 23);

    shadowBox(835, 31, 932, 130);
    var lc = clipRect("leg1", 835, 31, 931, 130);
    legendLine(837, 852, 53, "#000", 3);
    legendLine(837, 852, 82, "#000", 1);
    legendLine(837, 852, 110, "#000", 1);
    label(859, 53, tempLegend[0], 15.5, { anchor: "start", clip: lc });
    label(859, 82, tempLegend[1], 15.5, { anchor: "start", clip: lc });
    label(859, 110, tempLegend[2], 15.5, { anchor: "start", clip: lc });

    ticksLeft(y, range(2, 38, 2), 156, 11.5);
    ticksBottom(x, hours100, 475, 11.5);
    label(553, 492, "Time (GMT)", 14);
    label(122, 264, "Temperature (Deg C)", 13, { rotate: -90, spacing: 0.6 });
})();

// ============================================================
// 2. Relative humidity
// ============================================================
(function() {
    var x = d3.scaleLinear().domain([-82, 2524]).range([175, 934]);
    var y = d3.scaleLinear().domain([10, 100]).range([974, 582]);

    frame(107, 564, 947, 1036, 1.5);
    gridV(x, hours100, 582, 974, 1, DOT);
    gridH(y, range(15, 95, 5), 175, 934, 1, DOT);
    frame(175, 582, 934, 974, 1);

    series(x, y, relHum, "#000", 2);

    shadowBox(417, 571, 709, 614);
    label(563, 592, TITLE, 18);

    shadowBox(814, 926, 869, 958);
    legendLine(818, 834, 943, "#000", 3);
    label(841, 943, "RH", 16, { anchor: "start" });

    ticksLeft(y, range(10, 100, 10), 165, 11.5);
    ticksBottom(x, hoursEven, 992, 11.5);
    ticksBottom(x, hoursOdd, 1007, 11.5);
    label(553, 1024, "Time (GMT)", 13);
    label(125, 778, "Relative humidity (%)", 13, { rotate: -90, spacing: 0.6 });
})();

// ============================================================
// 3. Humidity mixing ratio
// ============================================================
(function() {
    var x = d3.scaleLinear().domain([-80, 2527]).range([175, 957]);
    var y = d3.scaleLinear().domain([4, 12]).range([1519, 1095]);

    frame(125, 1087, 967, 1562, 1.5);
    gridV(x, hours100, 1095, 1519, 1, DOT);
    gridH(y, [6, 8, 10], 175, 957, 1, DOT);
    frame(175, 1095, 957, 1519, 1);

    series(x, y, mixRatio, "#000", 2);

    shadowBox(246, 1088, 560, 1117);
    label(403, 1103, TITLE, 18);

    shadowBox(573, 1088, 940, 1124);
    var lc = clipRect("leg3", 573, 1088, 939, 1124);
    legendLine(576, 589, 1109, "#000", 3);
    label(598, 1107, mixLegend, 13.5, { anchor: "start", clip: lc });

    ticksLeft(y, [4, 6, 8, 10, 12], 165, 11.5);
    ticksBottom(x, hours100, 1538, 11.5);
    label(558, 1554, "Time (GMT)", 13);
    label(134, 1307, "Humidity mixing ratio (grammes)", 13, { rotate: -90, spacing: 0.6 });
})();

// ============================================================
// 4. MSL pressure
// ============================================================
(function() {
    var x = d3.scaleLinear().domain([-78, 2527]).range([234, 972]);
    var y = d3.scaleLinear().domain([1007, 1014]).range([2055, 1684]);

    frame(144, 1642, 979, 2122, 1.5);
    gridV(x, hours100, 1684, 2055, 1, DOT);
    gridH(y, range(1008, 1013, 1), 234, 972, 1, DOT);
    frame(234, 1684, 972, 2055, 1);

    series(x, y, mslPressure, "#000", 1.8);

    shadowBox(399, 1644, 540, 1684);
    legendLine(409, 424, 1666, "#000", 3);
    label(431, 1665, "MSL Pressure", 15, { anchor: "start" });

    shadowBox(567, 1642, 865, 1687);
    label(716, 1664, TITLE, 18);

    ticksLeft(y, range(1007, 1014, 1), 221, 11.5);
    ticksBottom(x, hoursEven, 2072, 11.5);
    ticksBottom(x, hoursOdd, 2088, 11.5);
    label(596, 2105, "Time (GMT)", 13);
    label(176, 1870, "Pressure (mbar)", 13, { rotate: -90, spacing: 0.6 });
})();

// ============================================================
// 5. Grass temperature
// ============================================================
(function() {
    var x = d3.scaleLinear().domain([-84, 2513]).range([205, 919]);
    var y = d3.scaleLinear().domain([-8, 24]).range([2635, 2252]);
    var yr = d3.scaleLinear().domain([-14, 2]).range([2635, 2252]);

    frame(155, 2204, 990, 2690, 1.5);
    gridV(x, hours100, 2252, 2635, 1, DOT);
    gridH(y, [-6, -4, -2, 2, 4, 6, 8, 10, 12, 14, 16, 18, 22], 205, 919, 1, DOT);
    gridH(y, [0, 20], 205, 919, 1.2);
    frame(205, 2252, 919, 2635, 1);

    var pc = clipRect("plot5", 205, 2252, 919, 2635);
    series(x, yr, grassAirDiff, "#808080", 1, pc);
    series(x, y, grassTemp, "#000", 2, pc);

    shadowBox(408, 2204, 713, 2246);
    label(560, 2225, TITLE, 18);

    shadowBox(502, 2559, 663, 2632);
    legendLine(511, 528, 2583, "#000", 3);
    legendLine(511, 528, 2612, "#808080", 1);
    label(534, 2582, grassLegend[0], 15, { anchor: "start" });
    label(534, 2611, grassLegend[1], 15, { anchor: "start" });

    ticksLeft(y, range(-8, 24, 2), 195, 12, true);
    ticksRight(yr, range(-14, 2, 1), 927, 11.5);
    ticksBottom(x, hoursEven, 2652, 11.5);
    ticksBottom(x, hoursOdd, 2668, 11.5);
    label(562, 2684, "Time (GMT)", 13);
    label(163, 2438, "Grass Temp (Deg C)", 13, { rotate: -90, spacing: 0.6 });
    label(967, 2440, "Grass Temp minus Air Temp (Deg C)", 13, { rotate: -90, spacing: 0.6 });
})();

// ============================================================
// 6. Rainfall
// ============================================================
(function() {
    var x = d3.scaleLinear().domain([-78, 2488]).range([198, 923]);
    var y = d3.scaleLinear().domain([0, 10]).range([3175, 2766]);

    frame(148, 2759, 981, 3240, 1.5);
    gridV(x, hours100, 2766, 3175, 1, DOT);
    gridH(y, [1, 3, 5, 7, 9], 198, 923, 1, DOT);
    gridH(y, [2, 4, 6, 8], 198, 923, 2.5);
    frame(198, 2766, 923, 3175, 1);

    series(x, y, rainfall, "#000", 3);

    whiteBox(290, 2764, 574, 2822);
    whiteBox(235, 2822, 625, 2868);
    label(430, 2779, TITLE, 18);
    label(430, 2802, "Rainfall (TBR)", 18);
    label(428, 2847, "Corrected to equivalent of the standard gauge", 17);

    ticksLeft(y, [0, 2, 4, 6, 8, 10], 188, 11.5);
    ticksBottom(x, hoursEven, 3192, 11.5);
    label(562, 3225, "Time (GMT)", 13);
    label(154, 2972, "Rainfall ( mm)", 13, { rotate: -90, spacing: 0.6 });
    label(950, 2972, "Rainfall (mm)", 13, { rotate: -90, spacing: 0.6 });
})();

// ============================================================
// 7. Sunshine
// ============================================================
(function() {
    var x = d3.scaleLinear().domain([2.385, 22.91]).range([227, 994]);
    var y = d3.scaleLinear().domain([0, 150]).range([3723, 3314]);

    frame(152, 3303, 1001, 3771, 1.5);
    gridV(x, sunHours, 3314, 3723, 1, "3,3");
    gridH(y, [50, 100], 227, 994, 1, "1,1", "#9a9a9a");
    frame(227, 3314, 994, 3723, 1);

    // small inside ticks
    var tg = svg.append("g").attr("transform", "translate(227,0)")
        .call(d3.axisRight(y).tickValues([0, 50, 100]).tickSize(9).tickFormat(""));
    tg.select(".domain").remove();
    tg.selectAll(".tick line").attr("stroke", "#000").attr("stroke-width", 1.3);

    series(x, y, sunSteps.map(function(d) { return [d[0] / 60, d[1]]; }), "#000", 2.2, null, d3.curveStepAfter);

    whiteBox(423, 3312, 754, 3370);
    whiteBox(435, 3372, 768, 3427);
    label(588, 3322, sunTitle[0], 15.5, { bold: true });
    label(588, 3349, sunTitle[1], 24);
    label(591, 3385, sunTitle[2], 16, { bold: true });
    label(591, 3410, sunTitle[3], 23);

    ticksLeft(y, [0, 100], 213, 11.5);
    ticksBottom(x, sunHours, 3743, 14);
    label(610, 3764, "Time (GMT)", 13);
    label(176, 3518, "Sunshine (per cent per minute)", 13, { rotate: -90, spacing: 0.6 });
})();

// ============================================================
// 8. Wind
// ============================================================
(function() {
    var x = d3.scaleLinear().domain([-80, 2493]).range([141, 946]);
    var y = d3.scaleLinear().domain([0, 400]).range([4640, 4132]);
    var yk = d3.scaleLinear().domain([0, 40]).range([4640, 4132]);

    svg.append("line").attr("x1", 62).attr("x2", 1012).attr("y1", 4118).attr("y2", 4118)
        .attr("stroke", "#000").attr("stroke-width", 1.5);
    svg.append("line").attr("x1", 62).attr("x2", 1012).attr("y1", 4702).attr("y2", 4702)
        .attr("stroke", "#000").attr("stroke-width", 1.5);

    gridV(x, hours100, 4132, 4640, 1, DOT);
    gridH(y, range(20, 380, 20), 141, 946, 1.2);
    frame(141, 4132, 946, 4640, 1.2);

    series(x, yk, windMean, "#707070", 2);
    series(x, yk, windGust, "#000", 1);
    svg.append("g").selectAll("circle")
        .data(windDirn)
        .enter().append("circle")
        .attr("cx", function(d) { return x(d[0]); })
        .attr("cy", function(d) { return y(d[1]); })
        .attr("r", 3.6)
        .attr("fill", "#4a4a4a")
        .attr("stroke", "#1a1a1a")
        .attr("stroke-width", 0.8);

    whiteBox(258, 4119, 737, 4167);
    label(495, 4130, "Wokingham 5 min wind estimate(based on Reading Uni)", 19.5);
    label(496, 4155, "20260803", 16, { bold: true });

    shadowBox(748, 4116, 940, 4170);
    var lc = clipRect("leg8", 748, 4116, 939, 4170);
    svg.append("circle").attr("cx", 755).attr("cy", 4132).attr("r", 3.4)
        .attr("fill", "#4a4a4a").attr("stroke", "#1a1a1a").attr("stroke-width", 0.8);
    label(766, 4132, windLegend[0], 11, { anchor: "start" });
    legendLine(851, 862, 4132, "#707070", 2);
    label(869, 4132, windLegend[1], 11, { anchor: "start", clip: lc });
    legendLine(749, 760, 4158, "#000", 1);
    label(767, 4158, windLegend[2], 11, { anchor: "start" });

    ticksLeft(y, range(0, 400, 20), 129, 11);
    ticksRight(yk, range(0, 40, 2), 956, 11);
    ticksBottom(x, hours100, 4657, 10.5);
    label(542, 4678, "Time, hours GMT", 16);
    label(89, 4386, "Degrees", 17, { rotate: -90 });
    label(989, 4386, "knots", 17, { rotate: -90 });
})();
</script>
</body>
</html>
